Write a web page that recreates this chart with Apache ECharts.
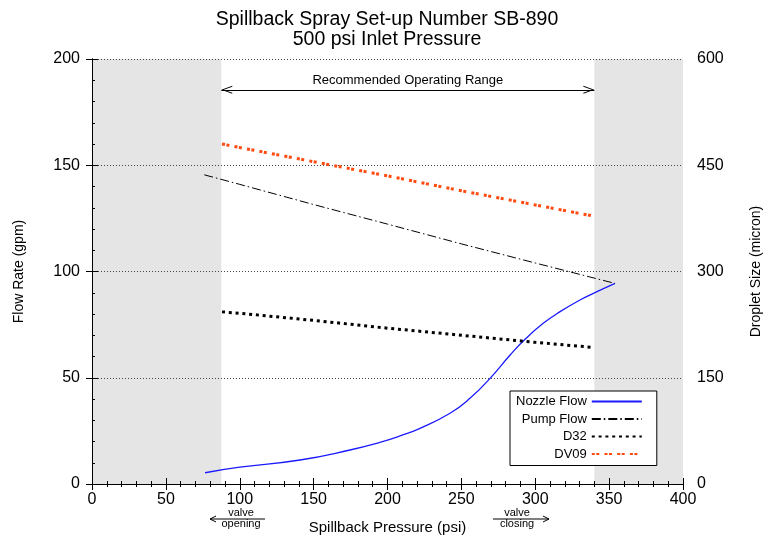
<!DOCTYPE html>
<html><head><meta charset="utf-8">
<script src="https://cdn.jsdelivr.net/npm/echarts@6/dist/echarts.min.js"></script>
<style>html,body{margin:0;padding:0;background:#fff}#c{width:774px;height:540px}</style>
</head><body><div id="c"></div>
<script>
// ---- data ----
const titleLines = ['Spillback Spray Set-up Number SB-890', '500 psi Inlet Pressure'];
const seriesNames = ['Nozzle Flow', 'Pump Flow', 'D32', 'DV09'];
// [pressure psi, flow gpm]
const nozzleFlow = [[76.5,5.3],[100,7.9],[140.8,11.3],[174.6,16],[194.9,19.6],[208.5,22.6],[222,26.2],[242.3,33.3],[255.8,40.3],[269.4,49.7],[283,60.7],[293.1,68.1],[305.4,75.6],[316.8,81.1],[330.3,86.6],[339.3,89.7],[354,94.4]];
const pumpFlow = [[76,145.5],[100,141],[150,131.5],[200,122.3],[250,113],[300,104],[354,94.4]];
// [pressure psi, droplet size micron]
const d32 = [[88,243],[100,241],[150,231],[200,220],[250,210],[300,200],[338,193]];
const dv09 = [[88,480],[100,475],[150,455],[200,435],[250,414],[300,394],[340,378]];
const greyRanges = [[0, 87.5], [340, 400]];
const operatingRange = [87.5, 340];
const operatingRangeY = 185.5;
const operatingRangeLabel = 'Recommended Operating Range';
const xRange = [0, 400], xStep = 50;
const yLeftRange = [0, 200], yLeftStep = 50;
const yRightRange = [0, 600], yRightStep = 150;
const xName = 'Spillback Pressure (psi)';
const yLeftName = 'Flow Rate (gpm)';
const yRightName = 'Droplet Size (micron)';

const FONT = 'Liberation Sans';
const chart = echarts.init(document.getElementById('c'), null, {renderer: 'canvas'});
// open chevron whose tip sits at the centre of its bounding box
const chevron = 'path://M5,-10 L5,-10 Z M5,0 L10,10 L8.8,10 L5,2.4 L1.2,10 L0,10 Z';

const axisCommon = {
  z: 1,
  axisLine: {show: true, lineStyle: {color: '#000', width: 1}},
  axisTick: {show: true, inside: true, length: 6, lineStyle: {color: '#000'}},
  axisLabel: {color: '#000', fontSize: 16, fontFamily: FONT},
  nameTextStyle: {color: '#000', fontSize: 14, fontFamily: FONT}
};

chart.setOption({
  animation: false,
  backgroundColor: '#fff',
  title: {
    text: titleLines.join('\n'), left: 'center', top: 5,
    textStyle: {fontSize: 19.5, fontWeight: 'normal', color: '#000', fontFamily: FONT, lineHeight: 20}
  },
  grid: {left: 92, right: 91, top: 59, bottom: 56, containLabel: false},
  legend: {
    orient: 'vertical', left: 510, top: 391, align: 'right',
    backgroundColor: '#fff', borderColor: '#000', borderWidth: 1, borderRadius: 0,
    padding: [4, 14, 5, 6], itemGap: 4.5, itemWidth: 50, itemHeight: 12,
    itemStyle: {opacity: 0},
    textStyle: {fontSize: 13, color: '#000', fontFamily: FONT},
    data: seriesNames
  },
  xAxis: [
    Object.assign({}, axisCommon, {
      type: 'value', min: xRange[0], max: xRange[1], interval: xStep, position: 'bottom',
      name: xName, nameLocation: 'middle', nameGap: 36,
      nameTextStyle: {color: '#000', fontSize: 15, fontFamily: FONT},
      axisLabel: Object.assign({}, axisCommon.axisLabel, {margin: 8}),
      minorTick: {show: true, splitNumber: 5, length: 3, lineStyle: {color: '#000'}},
      splitLine: {show: false}
    }),
    Object.assign({}, axisCommon, {
      type: 'value', min: xRange[0], max: xRange[1], interval: xStep, position: 'top',
      axisLabel: {show: false},
      minorTick: {show: true, splitNumber: 5, length: 3, lineStyle: {color: '#000'}},
      splitLine: {show: false}
    })
  ],
  yAxis: [
    Object.assign({}, axisCommon, {
      type: 'value', min: yLeftRange[0], max: yLeftRange[1], interval: yLeftStep, position: 'left',
      name: yLeftName, nameLocation: 'middle', nameGap: 66,
      axisLabel: Object.assign({}, axisCommon.axisLabel, {margin: 12}),
      minorTick: {show: true, splitNumber: 5, length: 3, lineStyle: {color: '#000'}},
      splitLine: {show: true, lineStyle: {color: '#444', type: [1, 2], width: 1}}
    }),
    Object.assign({}, axisCommon, {
      type: 'value', min: yRightRange[0], max: yRightRange[1], interval: yRightStep, position: 'right',
      name: yRightName, nameLocation: 'middle', nameGap: 66,
      axisLabel: Object.assign({}, axisCommon.axisLabel, {margin: 14}),
      splitLine: {show: false}
    })
  ],
  series: [
    {
      name: 'bg', type: 'line', data: [], xAxisIndex: 0, yAxisIndex: 0, silent: true,
      markArea: {
        silent: true, z: 0,
        itemStyle: {color: '#e5e5e5'},
        data: greyRanges.map(r => [{xAxis: r[0]}, {xAxis: r[1]}])
      },
      markLine: {
        silent: true, z: 5,
        symbol: [chevron, chevron], symbolSize: [8, 22],
        lineStyle: {color: '#000', width: 1, type: 'solid'},
        label: {show: true, position: 'middle', formatter: operatingRangeLabel, color: '#000', fontSize: 13, fontFamily: FONT, distance: 3},
        data: [[{coord: [operatingRange[0], operatingRangeY]}, {coord: [operatingRange[1], operatingRangeY]}]]
      }
    },
    {
      name: seriesNames[0], type: 'line', data: nozzleFlow, yAxisIndex: 0, smooth: 0.5,
      showSymbol: false, symbol: 'none', z: 3,
      lineStyle: {color: '#1a1aff', width: 1.3}, itemStyle: {color: '#1a1aff'}
    },
    {
      name: seriesNames[1], type: 'line', data: pumpFlow, yAxisIndex: 0,
      showSymbol: false, symbol: 'none', z: 3,
      lineStyle: {color: '#000', width: 1, type: [9, 3, 1.5, 3]}, itemStyle: {color: '#000'}
    },
    {
      name: seriesNames[2], type: 'line', data: d32, yAxisIndex: 1,
      showSymbol: false, symbol: 'none', z: 3,
      lineStyle: {color: '#000', width: 3, type: [3, 3.8]}, itemStyle: {color: '#000'}
    },
    {
      name: seriesNames[3], type: 'line', data: dv09, yAxisIndex: 1,
      showSymbol: false, symbol: 'none', z: 3,
      lineStyle: {color: '#ff4a10', width: 3, type: [3, 1.5, 3, 5.2]}, itemStyle: {color: '#ff4a10'}
    }
  ],
  graphic: [
    {type: 'text', x: 241, y: 513, style: {text: 'valve', font: '11px "Liberation Sans"', fill: '#000', align: 'center', verticalAlign: 'middle'}},
    {type: 'text', x: 241, y: 524, style: {text: 'opening', font: '11px "Liberation Sans"', fill: '#000', align: 'center', verticalAlign: 'middle'}},
    {type: 'line', shape: {x1: 210, y1: 519, x2: 265, y2: 519}, style: {stroke: '#000', lineWidth: 1}},
    {type: 'polyline', shape: {points: [[216, 516], [210, 519], [216, 522]]}, style: {stroke: '#000', lineWidth: 1, fill: null}},
    {type: 'text', x: 517, y: 513, style: {text: 'valve', font: '11px "Liberation Sans"', fill: '#000', align: 'center', verticalAlign: 'middle'}},
    {type: 'text', x: 517, y: 524, style: {text: 'closing', font: '11px "Liberation Sans"', fill: '#000', align: 'center', verticalAlign: 'middle'}},
    {type: 'line', shape: {x1: 493, y1: 519, x2: 549, y2: 519}, style: {stroke: '#000', lineWidth: 1}},
    {type: 'polyline', shape: {points: [[543, 516], [549, 519], [543, 522]]}, style: {stroke: '#000', lineWidth: 1, fill: null}}
  ]
});
</script>
</body></html>
